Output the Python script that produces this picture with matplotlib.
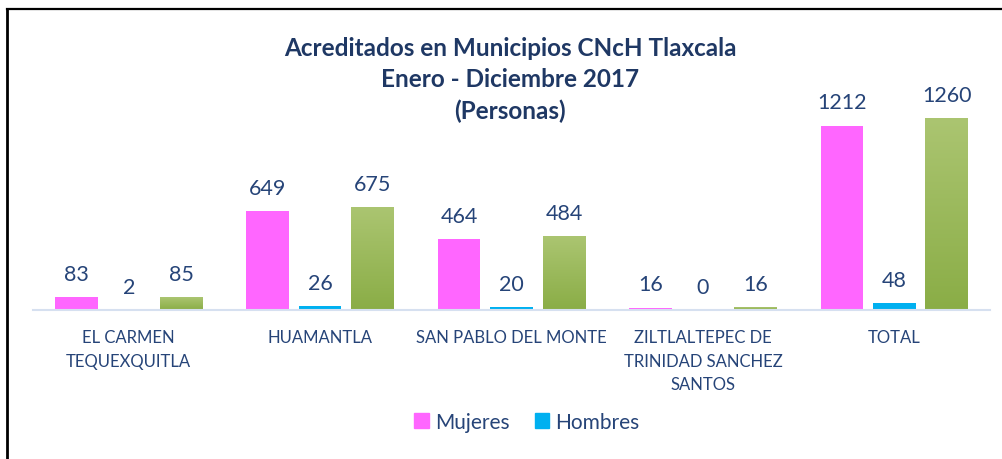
import numpy as np
import matplotlib
matplotlib.use("Agg")
import matplotlib.pyplot as plt
from matplotlib.lines import Line2D
from matplotlib.patches import Patch
from matplotlib.colors import LinearSegmentedColormap

plt.rcParams["font.family"] = ["Lato", "DejaVu Sans"]

categories = [
    "EL CARMEN\nTEQUEXQUITLA",
    "HUAMANTLA",
    "SAN PABLO DEL MONTE",
    "ZILTLALTEPEC DE\nTRINIDAD SANCHEZ\nSANTOS",
    "TOTAL",
]
mujeres = [83, 649, 464, 16, 1212]
hombres = [2, 26, 20, 0, 48]
total = [85, 675, 484, 16, 1260]

text_col = "#264478"
title_col = "#1F3864"
pink = "#FF66FF"
blue = "#00B0F0"
green_cmap = LinearSegmentedColormap.from_list("g", ["#8AAD46", "#ABC571"])

fig = plt.figure(figsize=(10.02, 4.6), dpi=100)
W, H = 1002, 460
ax = fig.add_axes([33 / W, 1 - 311 / H, (990 - 33) / W, (311 - 50) / H])

x = np.arange(len(categories))
step = 0.274
width = 0.222
ymax = 1715

ax.bar(x - step, mujeres, width, color=pink, zorder=2)
ax.bar(x, hombres, width, color=blue, zorder=2)
gbars = ax.bar(x + step, total, width, color="none", zorder=2)

grad = np.linspace(0, 1, 256).reshape(-1, 1)
for b in gbars:
    x0, h = b.get_x(), b.get_height()
    if h <= 0:
        continue
    ax.imshow(grad, cmap=green_cmap, origin="lower", aspect="auto",
              extent=(x0, x0 + b.get_width(), 0, h), zorder=2)

for series, off in [(mujeres, -step), (hombres, 0), (total, step)]:
    for xi, v in zip(x, series):
        ax.annotate(str(v), (xi + off, v), xytext=(0, 12.3), textcoords="offset points",
                    ha="center", va="baseline", fontsize=15.5, color=text_col)

ax.set_xlim(-0.5, len(categories) - 0.5)
ax.set_ylim(0, ymax)
ax.set_yticks([])
ax.set_xticks(x)
ax.set_xticklabels(categories, fontsize=12, color=text_col, linespacing=1.55)
ax.tick_params(axis="x", length=0, pad=14)
for s in ["top", "right", "left"]:
    ax.spines[s].set_visible(False)
ax.spines["bottom"].set_color("#D6E0F0")
ax.spines["bottom"].set_linewidth(1.5)

fig.text(510 / W, 1 - 80 / H,
         "Acreditados en Municipios CNcH Tlaxcala\nEnero - Diciembre 2017\n(Personas)",
         ha="center", va="center", fontsize=17.5, fontweight="bold", color=title_col,
         linespacing=1.41)

handles = [Patch(color=pink, label="Mujeres"), Patch(color=blue, label="Hombres")]
fig.legend(handles=handles, loc="center", bbox_to_anchor=(527 / W, 1 - 423 / H),
           ncol=2, frameon=False, fontsize=15, labelcolor=text_col,
           handlelength=0.7, handleheight=0.7, handletextpad=0.3, columnspacing=1.2)

fig.add_artist(Line2D([7 / W, 7 / W], [0, 1 - 10 / H], color="black", lw=2))
fig.add_artist(Line2D([7 / W, 1], [1 - 10 / H, 1 - 10 / H], color="black", lw=1.6))

fig.savefig("out.png", dpi=100)
